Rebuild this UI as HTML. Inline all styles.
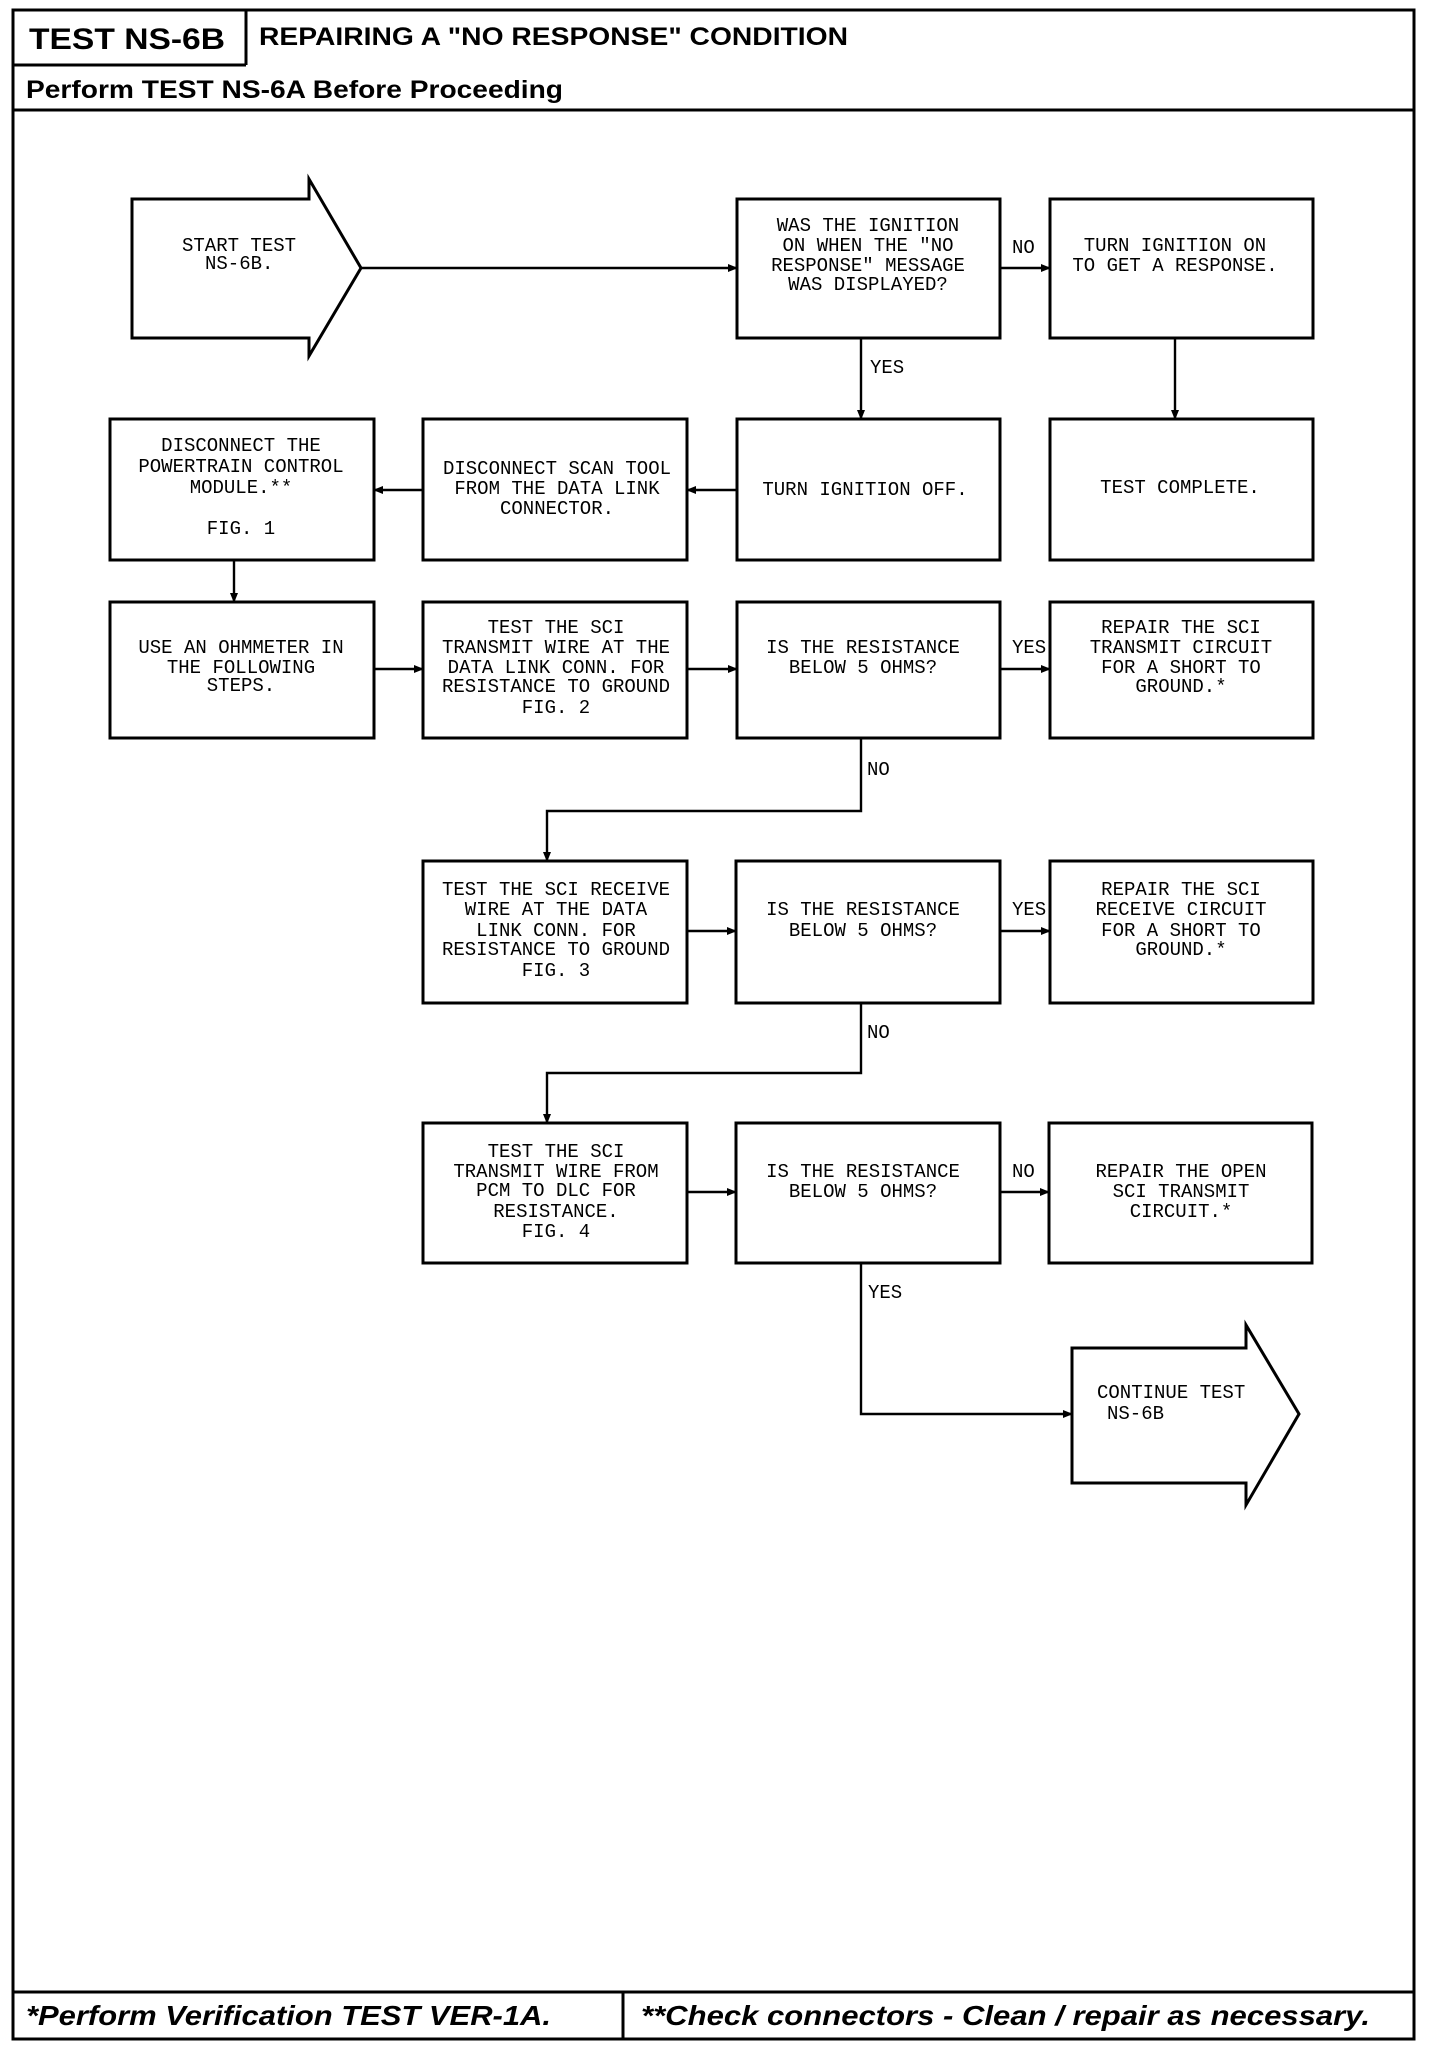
<!DOCTYPE html>
<html><head><meta charset="utf-8"><style>
html,body{margin:0;padding:0;background:#fff;}
svg{display:block}
.m{font-family:"Liberation Mono",monospace;font-size:19px;fill:#000;dominant-baseline:central;text-anchor:middle}
.l{font-family:"Liberation Mono",monospace;font-size:19px;fill:#000;dominant-baseline:central}
.b{fill:#fff;stroke:#000;stroke-width:3}
.c{fill:none;stroke:#000;stroke-width:2.4}
</style></head><body>
<svg width="1440" height="2050" viewBox="0 0 1440 2050" xmlns="http://www.w3.org/2000/svg">
<defs><marker id="a" markerWidth="10" markerHeight="8" refX="9" refY="4" orient="auto" markerUnits="userSpaceOnUse"><path d="M0,0 L10,4 L0,8 z" fill="#000"/></marker></defs>
<rect x="13" y="10" width="1401" height="2029" fill="none" stroke="#000" stroke-width="3"/>
<line x1="13" y1="65" x2="246" y2="65" stroke="#000" stroke-width="3"/>
<line x1="246" y1="10" x2="246" y2="65" stroke="#000" stroke-width="3"/>
<line x1="13" y1="110" x2="1414" y2="110" stroke="#000" stroke-width="3"/>
<line x1="13" y1="1992" x2="1414" y2="1992" stroke="#000" stroke-width="3"/>
<line x1="623" y1="1992" x2="623" y2="2039" stroke="#000" stroke-width="3"/>
<text x="29" y="49" font-family="Liberation Sans,sans-serif" font-weight="bold" font-size="30" textLength="196" lengthAdjust="spacingAndGlyphs">TEST NS-6B</text>
<text x="259" y="45" font-family="Liberation Sans,sans-serif" font-weight="bold" font-size="25" textLength="589" lengthAdjust="spacingAndGlyphs">REPAIRING A "NO RESPONSE" CONDITION</text>
<text x="26" y="98" font-family="Liberation Sans,sans-serif" font-weight="bold" font-size="25" textLength="537" lengthAdjust="spacingAndGlyphs">Perform TEST NS-6A Before Proceeding</text>
<text x="26" y="2025" font-family="Liberation Sans,sans-serif" font-weight="bold" font-style="italic" font-size="28" textLength="525" lengthAdjust="spacingAndGlyphs">*Perform Verification TEST VER-1A.</text>
<text x="641" y="2025" font-family="Liberation Sans,sans-serif" font-weight="bold" font-style="italic" font-size="28" textLength="729" lengthAdjust="spacingAndGlyphs">**Check connectors - Clean / repair as necessary.</text>

<line class="c" x1="361" y1="268" x2="737" y2="268" marker-end="url(#a)"/>
<line class="c" x1="1000" y1="268" x2="1050" y2="268" marker-end="url(#a)"/>
<line class="c" x1="861" y1="338" x2="861" y2="419" marker-end="url(#a)"/>
<line class="c" x1="1175" y1="338" x2="1175" y2="419" marker-end="url(#a)"/>
<line class="c" x1="737" y1="490" x2="687" y2="490" marker-end="url(#a)"/>
<line class="c" x1="423" y1="490" x2="374" y2="490" marker-end="url(#a)"/>
<line class="c" x1="234" y1="560" x2="234" y2="602" marker-end="url(#a)"/>
<line class="c" x1="374" y1="669" x2="423" y2="669" marker-end="url(#a)"/>
<line class="c" x1="687" y1="669" x2="737" y2="669" marker-end="url(#a)"/>
<line class="c" x1="1000" y1="669" x2="1050" y2="669" marker-end="url(#a)"/>
<polyline class="c" points="861,738 861,811 547,811 547,861" marker-end="url(#a)"/>
<line class="c" x1="687" y1="931" x2="736" y2="931" marker-end="url(#a)"/>
<line class="c" x1="1000" y1="931" x2="1050" y2="931" marker-end="url(#a)"/>
<polyline class="c" points="861,1003 861,1073 547,1073 547,1123" marker-end="url(#a)"/>
<line class="c" x1="687" y1="1192" x2="736" y2="1192" marker-end="url(#a)"/>
<line class="c" x1="1000" y1="1192" x2="1049" y2="1192" marker-end="url(#a)"/>
<polyline class="c" points="861,1263 861,1414 1072,1414" marker-end="url(#a)"/>
<text class="l" x="1012" y="248">NO</text>
<text class="l" x="870" y="368">YES</text>
<text class="l" x="1012" y="648">YES</text>
<text class="l" x="867" y="770">NO</text>
<text class="l" x="1012" y="910">YES</text>
<text class="l" x="867" y="1033">NO</text>
<text class="l" x="1012" y="1172">NO</text>
<text class="l" x="868" y="1293">YES</text>

<path class="b" d="M132,199 L309,199 L309,179 L361,268 L309,356 L309,338 L132,338 Z"/>
<text class="l" x="182" y="246">START TEST</text><text class="l" x="205" y="264">NS-6B.</text>
<rect class="b" x="737" y="199" width="263" height="139"/>
<text class="m" x="868"><tspan x="868" y="226">WAS THE IGNITION</tspan><tspan x="868" y="246">ON WHEN THE "NO</tspan><tspan x="868" y="266">RESPONSE" MESSAGE</tspan><tspan x="868" y="285">WAS DISPLAYED?</tspan></text>
<rect class="b" x="1050" y="199" width="263" height="139"/>
<text class="m"><tspan x="1175" y="246">TURN IGNITION ON</tspan><tspan x="1175" y="266">TO GET A RESPONSE.</tspan></text>
<rect class="b" x="110" y="419" width="264" height="141"/>
<text class="m"><tspan x="241" y="446">DISCONNECT THE</tspan><tspan x="241" y="467">POWERTRAIN CONTROL</tspan><tspan x="241" y="488">MODULE.**</tspan><tspan x="241" y="529">FIG. 1</tspan></text>
<rect class="b" x="423" y="419" width="264" height="141"/>
<text class="m"><tspan x="557" y="469">DISCONNECT SCAN TOOL</tspan><tspan x="557" y="489">FROM THE DATA LINK</tspan><tspan x="557" y="509">CONNECTOR.</tspan></text>
<rect class="b" x="737" y="419" width="263" height="141"/>
<text class="m" x="865" y="490">TURN IGNITION OFF.</text>
<rect class="b" x="1050" y="419" width="263" height="141"/>
<text class="m" x="1180" y="488">TEST COMPLETE.</text>
<rect class="b" x="110" y="602" width="264" height="136"/>
<text class="m"><tspan x="241" y="648">USE AN OHMMETER IN</tspan><tspan x="241" y="668">THE FOLLOWING</tspan><tspan x="241" y="686">STEPS.</tspan></text>
<rect class="b" x="423" y="602" width="264" height="136"/>
<text class="m"><tspan x="556" y="628">TEST THE SCI</tspan><tspan x="556" y="648">TRANSMIT WIRE AT THE</tspan><tspan x="556" y="668">DATA LINK CONN. FOR</tspan><tspan x="556" y="687">RESISTANCE TO GROUND</tspan><tspan x="556" y="708">FIG. 2</tspan></text>
<rect class="b" x="737" y="602" width="263" height="136"/>
<text class="m"><tspan x="863" y="648">IS THE RESISTANCE</tspan><tspan x="863" y="668">BELOW 5 OHMS?</tspan></text>
<rect class="b" x="1050" y="602" width="263" height="136"/>
<text class="m"><tspan x="1181" y="628">REPAIR THE SCI</tspan><tspan x="1181" y="648">TRANSMIT CIRCUIT</tspan><tspan x="1181" y="668">FOR A SHORT TO</tspan><tspan x="1181" y="687">GROUND.*</tspan></text>
<rect class="b" x="423" y="861" width="264" height="142"/>
<text class="m"><tspan x="556" y="890">TEST THE SCI RECEIVE</tspan><tspan x="556" y="910">WIRE AT THE DATA</tspan><tspan x="556" y="931">LINK CONN. FOR</tspan><tspan x="556" y="950">RESISTANCE TO GROUND</tspan><tspan x="556" y="971">FIG. 3</tspan></text>
<rect class="b" x="736" y="861" width="264" height="142"/>
<text class="m"><tspan x="863" y="910">IS THE RESISTANCE</tspan><tspan x="863" y="931">BELOW 5 OHMS?</tspan></text>
<rect class="b" x="1050" y="861" width="263" height="142"/>
<text class="m"><tspan x="1181" y="890">REPAIR THE SCI</tspan><tspan x="1181" y="910">RECEIVE CIRCUIT</tspan><tspan x="1181" y="931">FOR A SHORT TO</tspan><tspan x="1181" y="950">GROUND.*</tspan></text>
<rect class="b" x="423" y="1123" width="264" height="140"/>
<text class="m"><tspan x="556" y="1152">TEST THE SCI</tspan><tspan x="556" y="1172">TRANSMIT WIRE FROM</tspan><tspan x="556" y="1191">PCM TO DLC FOR</tspan><tspan x="556" y="1212">RESISTANCE.</tspan><tspan x="556" y="1232">FIG. 4</tspan></text>
<rect class="b" x="736" y="1123" width="264" height="140"/>
<text class="m"><tspan x="863" y="1172">IS THE RESISTANCE</tspan><tspan x="863" y="1192">BELOW 5 OHMS?</tspan></text>
<rect class="b" x="1049" y="1123" width="263" height="140"/>
<text class="m"><tspan x="1181" y="1172">REPAIR THE OPEN</tspan><tspan x="1181" y="1192">SCI TRANSMIT</tspan><tspan x="1181" y="1212">CIRCUIT.*</tspan></text>
<path class="b" d="M1072,1348 L1246,1348 L1246,1325 L1299,1414 L1246,1505 L1246,1483 L1072,1483 Z"/>
<text class="l" x="1097" y="1393">CONTINUE TEST</text><text class="l" x="1107" y="1414">NS-6B</text>
</svg>
</body></html>
